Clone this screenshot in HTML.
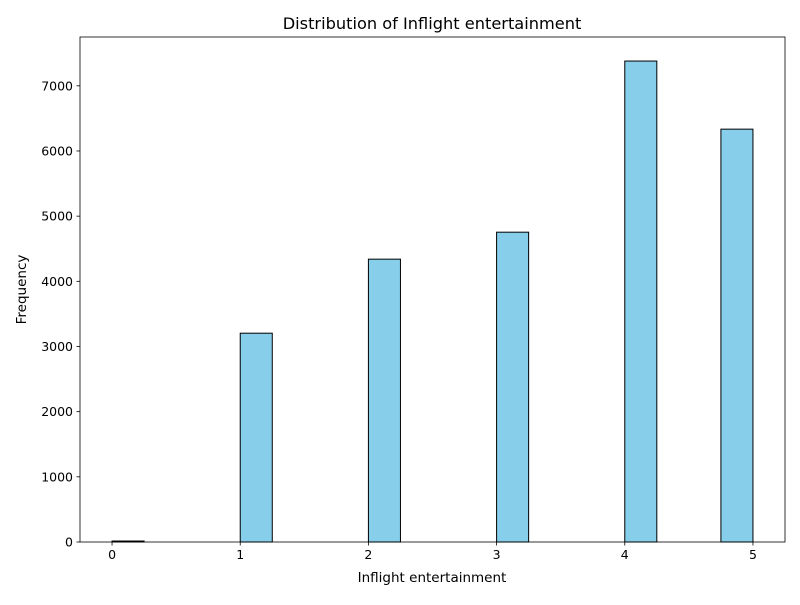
<!DOCTYPE html>
<html><head><meta charset="utf-8"><style>
body{margin:0;background:#fff;font-family:"Liberation Sans","DejaVu Sans",sans-serif}
svg text{font-family:"DejaVu Sans","Liberation Sans",sans-serif}
</style></head><body>
<svg id="chart" width="800" height="600" xmlns="http://www.w3.org/2000/svg">
<rect width="800" height="600" fill="#fff"/>
<g id="bars"></g>
<g id="axes"></g>
<text x="432" y="29" text-anchor="middle" font-size="16.2">Distribution of Inflight entertainment</text>
<text x="432" y="582" text-anchor="middle" font-size="13.5">Inflight entertainment</text>
<text x="26" y="289.5" text-anchor="middle" font-size="13.5" transform="rotate(-90 26 289.5)">Frequency</text>
</svg>
<script>
const binStarts=[0,0.25,0.5,0.75,1,1.25,1.5,1.75,2,2.25,2.5,2.75,3,3.25,3.5,3.75,4,4.25,4.5,4.75];
const counts=[15,0,0,0,3204,0,0,0,4340,0,0,0,4754,0,0,0,7380,0,0,6335];
const binWidth=0.25;
const xTicks=[0,1,2,3,4,5];
const yTicks=[0,1000,2000,3000,4000,5000,6000,7000];
const L=80,R=785,T=37,B=542;
const xmin=-0.25,xmax=5.25;
const ymax=Math.max(...counts)*1.05;
const X=v=>L+(v-xmin)/(xmax-xmin)*(R-L);
const Y=v=>B-v/ymax*(B-T);
const NS="http://www.w3.org/2000/svg";
const bars=document.getElementById('bars'),axes=document.getElementById('axes');
function mk(tag,attrs,parent){const e=document.createElementNS(NS,tag);for(const k in attrs)e.setAttribute(k,attrs[k]);parent.appendChild(e);return e;}
binStarts.forEach((s,i)=>{
  const x0=X(s),x1=X(s+binWidth),y=Y(counts[i]);
  const r=mk('rect',{x:x0,y:y,width:x1-x0,height:B-y,fill:'#87ceeb',stroke:'#000','stroke-width':1},bars);
  
  
});
const frame=mk('rect',{x:L,y:T,width:R-L,height:B-T,fill:'none',stroke:'#000','stroke-width':0.8},axes);


xTicks.forEach(v=>{
  const x=X(v);
  mk('line',{x1:x,x2:x,y1:B,y2:B+3.5,stroke:'#000','stroke-width':0.8},axes);
  const t=mk('text',{x:x,y:B+17,'text-anchor':'middle','font-size':12.5},axes);
  t.textContent=v;
  
  
});
yTicks.forEach(v=>{
  const y=Y(v);
  mk('line',{x1:L-3.5,x2:L,y1:y,y2:y,stroke:'#000','stroke-width':0.8},axes);
  const t=mk('text',{x:L-7,y:y+4.5,'text-anchor':'end','font-size':12.5},axes);
  t.textContent=v;
  
  
});
</script>
</body></html>
